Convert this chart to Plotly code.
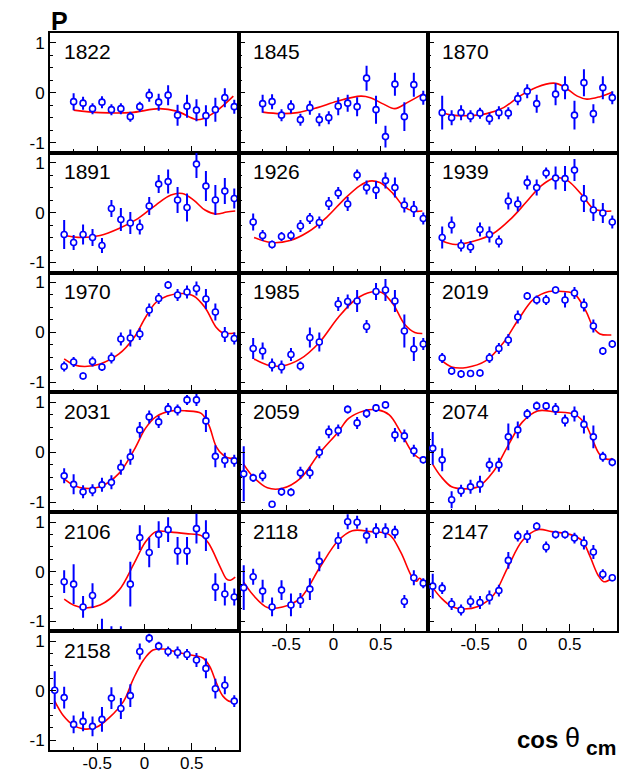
import plotly.graph_objects as go

# ---------------- data ----------------
labels = ["1822", "1845", "1870", "1891", "1926", "1939", "1970", "1985", "2019",
          "2031", "2059", "2074", "2106", "2118", "2147", "2158"]

x1822 = [-0.75, -0.65, -0.55, -0.45, -0.35, -0.25, -0.15, -0.05, 0.05, 0.15, 0.25, 0.35, 0.45, 0.55, 0.65, 0.75, 0.85, 0.95]
y1822 = [-0.18, -0.21, -0.32, -0.19, -0.34, -0.32, -0.48, -0.28, -0.05, -0.19, -0.05, -0.45, -0.27, -0.35, -0.46, -0.34, -0.10, -0.28]
e1822 = [0.17, 0.13, 0.11, 0.12, 0.11, 0.11, 0.10, 0.10, 0.13, 0.17, 0.20, 0.21, 0.23, 0.22, 0.21, 0.24, 0.19, 0.14]
cx1822 = [-0.75, -0.47, -0.15, 0.16, 0.34, 0.55, 0.62, 0.76, 0.94]
cy1822 = [-0.35, -0.40, -0.40, -0.32, -0.37, -0.54, -0.52, -0.37, -0.07]

x1845 = [-0.75, -0.65, -0.55, -0.45, -0.35, -0.25, -0.15, -0.05, 0.05, 0.15, 0.25, 0.35, 0.45, 0.55, 0.65, 0.75, 0.85, 0.95]
y1845 = [-0.22, -0.18, -0.45, -0.28, -0.54, -0.30, -0.54, -0.50, -0.27, -0.21, -0.28, 0.29, -0.34, -0.88, 0.17, -0.48, 0.16, -0.10]
e1845 = [0.18, 0.15, 0.12, 0.13, 0.12, 0.14, 0.13, 0.13, 0.18, 0.17, 0.19, 0.25, 0.28, 0.22, 0.23, 0.29, 0.24, 0.14]
cx1845 = [-0.75, -0.56, -0.38, -0.17, 0.04, 0.29, 0.39, 0.53, 0.65, 0.78, 0.95]
cy1845 = [-0.39, -0.42, -0.40, -0.30, -0.17, -0.07, -0.10, -0.23, -0.32, -0.20, -0.02]

x1870 = [-0.85, -0.75, -0.65, -0.55, -0.45, -0.35, -0.25, -0.15, -0.05, 0.05, 0.15, 0.35, 0.45, 0.55, 0.65, 0.75, 0.85, 0.95]
y1870 = [-0.40, -0.50, -0.40, -0.47, -0.41, -0.52, -0.40, -0.41, -0.12, 0.03, -0.22, -0.03, 0.10, -0.45, 0.20, -0.42, 0.10, -0.10]
e1870 = [0.34, 0.15, 0.15, 0.12, 0.11, 0.12, 0.13, 0.12, 0.13, 0.14, 0.18, 0.22, 0.23, 0.29, 0.27, 0.19, 0.23, 0.13]
cx1870 = [-0.86, -0.74, -0.56, -0.38, -0.20, -0.03, 0.15, 0.33, 0.43, 0.58, 0.68, 0.82, 0.95]
cy1870 = [-0.39, -0.45, -0.46, -0.42, -0.30, -0.07, 0.11, 0.19, 0.13, -0.07, -0.13, -0.08, 0.01]

x1891 = [-0.85, -0.75, -0.65, -0.55, -0.45, -0.35, -0.25, -0.15, -0.05, 0.05, 0.15, 0.25, 0.35, 0.45, 0.55, 0.65, 0.75, 0.85, 0.95]
y1891 = [-0.44, -0.60, -0.44, -0.50, -0.66, 0.08, -0.14, -0.21, -0.29, 0.13, 0.57, 0.62, 0.25, 0.10, 0.97, 0.53, 0.25, 0.43, 0.28]
e1891 = [0.29, 0.15, 0.20, 0.17, 0.15, 0.17, 0.23, 0.22, 0.15, 0.18, 0.18, 0.24, 0.26, 0.28, 0.28, 0.30, 0.30, 0.26, 0.20]
cx1891 = [-0.85, -0.67, -0.47, -0.27, -0.07, 0.12, 0.28, 0.40, 0.52, 0.64, 0.76, 0.87, 0.96]
cy1891 = [-0.46, -0.50, -0.46, -0.32, -0.12, 0.15, 0.35, 0.38, 0.25, 0.05, -0.03, 0.01, 0.03]

x1926 = [-0.85, -0.75, -0.65, -0.55, -0.45, -0.35, -0.25, -0.15, -0.05, 0.05, 0.15, 0.25, 0.35, 0.45, 0.55, 0.65, 0.75, 0.85, 0.95]
y1926 = [-0.19, -0.46, -0.64, -0.48, -0.46, -0.27, -0.12, -0.20, 0.18, 0.39, 0.17, 0.75, 0.50, 0.45, 0.64, 0.50, 0.15, 0.07, -0.12]
e1926 = [0.17, 0.11, 0.08, 0.09, 0.10, 0.12, 0.11, 0.12, 0.13, 0.12, 0.14, 0.11, 0.14, 0.18, 0.16, 0.20, 0.15, 0.16, 0.12]
cx1926 = [-0.84, -0.66, -0.46, -0.27, -0.07, 0.12, 0.28, 0.38, 0.49, 0.63, 0.75, 0.85, 0.94]
cy1926 = [-0.50, -0.60, -0.56, -0.39, -0.09, 0.28, 0.54, 0.63, 0.60, 0.38, 0.11, 0.03, 0.03]

x1939 = [-0.85, -0.75, -0.65, -0.55, -0.45, -0.35, -0.25, -0.15, -0.05, 0.05, 0.15, 0.25, 0.35, 0.45, 0.55, 0.65, 0.75, 0.85, 0.95]
y1939 = [-0.50, -0.25, -0.66, -0.69, -0.34, -0.44, -0.58, 0.23, 0.17, 0.60, 0.50, 0.79, 0.69, 0.68, 0.85, 0.28, 0.05, -0.01, -0.19]
e1939 = [0.22, 0.17, 0.12, 0.12, 0.14, 0.16, 0.12, 0.17, 0.15, 0.14, 0.16, 0.11, 0.23, 0.25, 0.22, 0.27, 0.22, 0.20, 0.13]
cx1939 = [-0.85, -0.71, -0.51, -0.31, -0.12, 0.04, 0.20, 0.35, 0.47, 0.63, 0.75, 0.85, 0.94]
cy1939 = [-0.57, -0.64, -0.57, -0.42, -0.12, 0.21, 0.54, 0.70, 0.65, 0.35, 0.08, 0.03, 0.03]

x1970 = [-0.85, -0.75, -0.65, -0.55, -0.45, -0.35, -0.25, -0.15, -0.05, 0.05, 0.15, 0.25, 0.35, 0.45, 0.55, 0.65, 0.75, 0.85, 0.95]
y1970 = [-0.68, -0.59, -0.87, -0.58, -0.69, -0.51, -0.13, -0.11, -0.03, 0.45, 0.68, 0.95, 0.75, 0.81, 0.88, 0.67, 0.41, -0.04, -0.12]
e1970 = [0.10, 0.10, 0.07, 0.10, 0.08, 0.11, 0.13, 0.17, 0.12, 0.13, 0.11, 0.08, 0.12, 0.13, 0.14, 0.20, 0.17, 0.15, 0.12]
cx1970 = [-0.85, -0.74, -0.63, -0.47, -0.27, -0.11, 0.01, 0.12, 0.24, 0.40, 0.52, 0.64, 0.76, 0.83, 0.96]
cy1970 = [-0.53, -0.65, -0.68, -0.63, -0.43, -0.10, 0.30, 0.60, 0.73, 0.78, 0.73, 0.50, 0.10, -0.01, -0.01]

x1985 = [-0.85, -0.75, -0.65, -0.55, -0.45, -0.35, -0.25, -0.15, 0.05, 0.15, 0.25, 0.35, 0.45, 0.55, 0.65, 0.75, 0.85, 0.95]
y1985 = [-0.32, -0.37, -0.65, -0.69, -0.44, -0.67, -0.10, -0.19, 0.57, 0.62, 0.63, 0.12, 0.82, 0.85, 0.63, 0.03, -0.33, -0.23]
e1985 = [0.21, 0.17, 0.13, 0.13, 0.13, 0.09, 0.20, 0.19, 0.14, 0.14, 0.22, 0.13, 0.17, 0.22, 0.22, 0.33, 0.24, 0.12]
cx1985 = [-0.84, -0.70, -0.54, -0.35, -0.15, 0.05, 0.24, 0.40, 0.51, 0.63, 0.75, 0.86, 0.94]
cy1985 = [-0.53, -0.65, -0.67, -0.53, -0.20, 0.30, 0.67, 0.81, 0.80, 0.57, 0.17, 0.00, -0.02]

x2019 = [-0.85, -0.75, -0.65, -0.55, -0.45, -0.35, -0.25, -0.15, -0.05, 0.05, 0.15, 0.25, 0.35, 0.45, 0.55, 0.65, 0.75, 0.85, 0.95]
y2019 = [-0.51, -0.77, -0.83, -0.82, -0.81, -0.51, -0.32, -0.15, 0.31, 0.73, 0.65, 0.65, 0.85, 0.65, 0.79, 0.55, 0.13, -0.37, -0.23]
e2019 = [0.10, 0.08, 0.08, 0.07, 0.07, 0.10, 0.11, 0.12, 0.13, 0.08, 0.09, 0.10, 0.07, 0.15, 0.12, 0.13, 0.13, 0.08, 0.08]
cx2019 = [-0.85, -0.75, -0.59, -0.39, -0.20, -0.04, 0.12, 0.28, 0.43, 0.55, 0.67, 0.75, 0.82, 0.94]
cy2019 = [-0.57, -0.69, -0.70, -0.57, -0.20, 0.27, 0.67, 0.82, 0.82, 0.77, 0.43, 0.10, -0.03, -0.05]

x2031 = [-0.85, -0.75, -0.65, -0.55, -0.45, -0.35, -0.25, -0.15, -0.05, 0.05, 0.15, 0.25, 0.35, 0.45, 0.55, 0.65, 0.75, 0.85, 0.95]
y2031 = [-0.47, -0.64, -0.79, -0.76, -0.65, -0.60, -0.30, -0.09, 0.45, 0.71, 0.61, 0.87, 0.85, 1.05, 1.05, 0.63, -0.08, -0.16, -0.17]
e2031 = [0.15, 0.20, 0.13, 0.12, 0.14, 0.14, 0.15, 0.16, 0.16, 0.13, 0.12, 0.12, 0.11, 0.10, 0.12, 0.22, 0.22, 0.15, 0.12]
cx2031 = [-0.85, -0.74, -0.63, -0.47, -0.27, -0.11, 0.01, 0.12, 0.28, 0.44, 0.60, 0.68, 0.76, 0.83, 0.91, 0.96]
cy2031 = [-0.53, -0.67, -0.72, -0.69, -0.42, 0.05, 0.48, 0.71, 0.83, 0.83, 0.78, 0.55, 0.11, -0.05, -0.12, -0.09]

x2059 = [-0.95, -0.85, -0.75, -0.65, -0.55, -0.45, -0.35, -0.25, -0.15, -0.05, 0.05, 0.15, 0.25, 0.35, 0.45, 0.55, 0.65, 0.75, 0.85, 0.95]
y2059 = [-0.43, -0.51, -0.47, -1.04, -0.79, -0.80, -0.41, -0.41, 0.00, 0.41, 0.44, 0.86, 0.59, 0.78, 0.89, 0.95, 0.35, 0.33, 0.03, -0.15]
e2059 = [0.55, 0.08, 0.11, 0.05, 0.08, 0.08, 0.12, 0.12, 0.12, 0.13, 0.12, 0.08, 0.12, 0.09, 0.08, 0.07, 0.14, 0.13, 0.12, 0.07]
cx2059 = [-0.95, -0.85, -0.70, -0.54, -0.35, -0.15, 0.05, 0.16, 0.32, 0.47, 0.59, 0.71, 0.83, 0.90, 0.95]
cy2059 = [-0.24, -0.49, -0.71, -0.72, -0.52, -0.02, 0.41, 0.68, 0.83, 0.85, 0.75, 0.41, 0.01, -0.11, -0.13]

x2074 = [-0.95, -0.85, -0.75, -0.65, -0.55, -0.45, -0.35, -0.25, -0.15, -0.05, 0.05, 0.15, 0.25, 0.35, 0.45, 0.55, 0.65, 0.75, 0.85, 0.95]
y2074 = [0.08, -0.15, -0.95, -0.77, -0.69, -0.64, -0.25, -0.25, 0.31, 0.45, 0.77, 0.93, 0.93, 0.87, 0.64, 0.77, 0.56, 0.31, -0.09, -0.20]
e2074 = [0.33, 0.23, 0.17, 0.12, 0.14, 0.17, 0.14, 0.14, 0.27, 0.17, 0.10, 0.09, 0.08, 0.12, 0.12, 0.15, 0.18, 0.23, 0.10, 0.08]
cx2074 = [-0.95, -0.86, -0.75, -0.63, -0.47, -0.31, -0.16, 0.00, 0.16, 0.35, 0.55, 0.67, 0.75, 0.82, 0.90, 0.95]
cy2074 = [-0.24, -0.49, -0.69, -0.73, -0.69, -0.39, 0.11, 0.61, 0.83, 0.81, 0.76, 0.55, 0.21, -0.05, -0.14, -0.12]

x2106 = [-0.85, -0.75, -0.65, -0.55, -0.45, -0.35, -0.25, -0.15, -0.05, 0.05, 0.15, 0.25, 0.35, 0.45, 0.55, 0.65, 0.75, 0.85, 0.95]
y2106 = [-0.20, -0.25, -0.71, -0.48, -1.50, -1.40, -1.40, -0.25, 0.69, 0.39, 0.75, 0.85, 0.42, 0.42, 0.87, 0.73, -0.31, -0.45, -0.51]
e2106 = [0.23, 0.40, 0.22, 0.25, 0.55, 0.30, 0.30, 0.45, 0.25, 0.30, 0.27, 0.25, 0.28, 0.28, 0.30, 0.31, 0.28, 0.23, 0.17]
cx2106 = [-0.85, -0.74, -0.63, -0.47, -0.27, -0.11, 0.01, 0.12, 0.28, 0.44, 0.60, 0.68, 0.80, 0.87, 0.91, 0.96]
cy2106 = [-0.55, -0.68, -0.73, -0.67, -0.37, 0.17, 0.60, 0.81, 0.80, 0.77, 0.73, 0.57, 0.10, -0.15, -0.17, -0.11]

x2118 = [-0.95, -0.85, -0.75, -0.65, -0.55, -0.45, -0.35, -0.25, -0.15, 0.05, 0.15, 0.25, 0.35, 0.45, 0.55, 0.65, 0.75, 0.85, 0.95]
y2118 = [-0.32, -0.10, -0.39, -0.71, -0.37, -0.67, -0.58, -0.35, 0.21, 0.63, 1.01, 1.00, 0.73, 0.83, 0.83, 0.80, -0.60, -0.12, -0.23]
e2118 = [0.45, 0.16, 0.23, 0.19, 0.20, 0.23, 0.15, 0.22, 0.20, 0.17, 0.15, 0.13, 0.16, 0.15, 0.15, 0.13, 0.13, 0.15, 0.10]
cx2118 = [-0.95, -0.85, -0.70, -0.54, -0.35, -0.15, 0.05, 0.20, 0.40, 0.59, 0.71, 0.83, 0.88, 0.91, 0.95]
cy2118 = [-0.21, -0.47, -0.72, -0.71, -0.53, 0.07, 0.63, 0.83, 0.81, 0.75, 0.40, -0.10, -0.19, -0.13, -0.21]

x2147 = [-0.95, -0.85, -0.75, -0.65, -0.55, -0.45, -0.35, -0.25, -0.15, -0.05, 0.05, 0.15, 0.25, 0.35, 0.45, 0.55, 0.65, 0.75, 0.85, 0.95]
y2147 = [-0.29, -0.33, -0.65, -0.77, -0.60, -0.62, -0.52, -0.38, 0.23, 0.72, 0.71, 0.92, 0.50, 0.75, 0.75, 0.68, 0.58, 0.40, -0.05, -0.12]
e2147 = [0.25, 0.12, 0.12, 0.11, 0.12, 0.13, 0.14, 0.12, 0.17, 0.11, 0.13, 0.08, 0.11, 0.08, 0.08, 0.11, 0.13, 0.14, 0.10, 0.07]
cx2147 = [-0.95, -0.86, -0.75, -0.63, -0.47, -0.31, -0.16, 0.00, 0.16, 0.31, 0.51, 0.63, 0.71, 0.80, 0.86, 0.95]
cy2147 = [-0.32, -0.53, -0.70, -0.75, -0.70, -0.48, 0.07, 0.63, 0.85, 0.81, 0.75, 0.63, 0.33, -0.07, -0.20, -0.13]

x2158 = [-0.95, -0.85, -0.75, -0.65, -0.55, -0.45, -0.35, -0.25, -0.15, -0.05, 0.05, 0.15, 0.25, 0.35, 0.45, 0.55, 0.65, 0.75, 0.85, 0.95]
y2158 = [0.01, -0.14, -0.68, -0.62, -0.72, -0.58, -0.15, -0.36, -0.10, 0.79, 1.06, 0.90, 0.79, 0.77, 0.73, 0.62, 0.45, 0.04, 0.11, -0.21]
e2158 = [0.38, 0.22, 0.18, 0.20, 0.20, 0.25, 0.22, 0.21, 0.23, 0.16, 0.09, 0.09, 0.10, 0.12, 0.11, 0.14, 0.20, 0.20, 0.18, 0.12]
cx2158 = [-0.95, -0.86, -0.75, -0.65, -0.51, -0.37, -0.22, -0.12, -0.01, 0.09, 0.20, 0.38, 0.52, 0.62, 0.69, 0.76, 0.83, 0.91, 0.95]
cy2158 = [-0.21, -0.50, -0.70, -0.77, -0.74, -0.54, -0.21, 0.23, 0.62, 0.82, 0.84, 0.76, 0.71, 0.66, 0.49, 0.16, -0.11, -0.22, -0.19]

xticks = [-0.5, 0, 0.5]
xtick_text = ["-0.5", "0", "0.5"]
yticks = [-1, 0, 1]
ytick_text = ["-1", "0", "1"]

panels = [
    (x1822, y1822, e1822, cx1822, cy1822), (x1845, y1845, e1845, cx1845, cy1845),
    (x1870, y1870, e1870, cx1870, cy1870), (x1891, y1891, e1891, cx1891, cy1891),
    (x1926, y1926, e1926, cx1926, cy1926), (x1939, y1939, e1939, cx1939, cy1939),
    (x1970, y1970, e1970, cx1970, cy1970), (x1985, y1985, e1985, cx1985, cy1985),
    (x2019, y2019, e2019, cx2019, cy2019), (x2031, y2031, e2031, cx2031, cy2031),
    (x2059, y2059, e2059, cx2059, cy2059), (x2074, y2074, e2074, cx2074, cy2074),
    (x2106, y2106, e2106, cx2106, cy2106), (x2118, y2118, e2118, cx2118, cy2118),
    (x2147, y2147, e2147, cx2147, cy2147), (x2158, y2158, e2158, cx2158, cy2158),
]

# ---------------- layout geometry (pixels) ----------------
W, H = 633, 773
col_left = [50, 239, 428]
col_w = 189
row_top = [33, 154, 275, 396, 517, 637]
row_bot = [154, 275, 396, 517, 637, 757]
FONT = "Liberation Sans, Arial, Helvetica, sans-serif"

fig = go.Figure()
layout = dict(
    width=W, height=H, autosize=False,
    margin=dict(l=0, r=0, t=0, b=0),
    paper_bgcolor="white", plot_bgcolor="white",
    showlegend=False,
    font=dict(family=FONT, color="black", size=17),
)
annotations = []

for i, (px, py, pe, cx, cy) in enumerate(panels):
    r, c = divmod(i, 3)
    n = "" if i == 0 else str(i + 1)
    xa, ya = "x" + n, "y" + n
    fig.add_trace(go.Scatter(
        x=cx, y=cy, mode="lines", xaxis=xa, yaxis=ya,
        line=dict(color="#ff0000", width=1.6, shape="spline", smoothing=1.0),
        hoverinfo="skip"))
    fig.add_trace(go.Scatter(
        x=px, y=py, mode="markers", xaxis=xa, yaxis=ya,
        marker=dict(symbol="circle", size=6, color="white",
                    line=dict(color="#0000ff", width=1.6)),
        error_y=dict(type="data", array=pe, visible=True, color="#0000ff",
                     thickness=2, width=0)))
    x0 = col_left[c] / W
    x1 = (col_left[c] + col_w) / W
    y0 = 1 - row_bot[r] / H
    y1 = 1 - row_top[r] / H
    show_x = i in (13, 14, 15)
    show_y = c == 0
    layout["xaxis" + n] = dict(
        domain=[x0, x1], range=[-1, 1], anchor=ya,
        showgrid=False, zeroline=False, showline=True, mirror=True,
        linecolor="black", linewidth=2,
        ticks="inside", ticklen=7, tickwidth=1, tickcolor="black",
        tickmode="array", tickvals=xticks, ticktext=xtick_text,
        showticklabels=show_x, tickfont=dict(size=17, family=FONT),
        ticklabelstandoff=-4,
        minor=dict(tickmode="array", tickvals=[-0.75, -0.25, 0.25, 0.75],
                   ticks="inside", ticklen=3.5, tickwidth=1, tickcolor="black"),
    )
    layout["yaxis" + n] = dict(
        domain=[y0, y1], range=[-1.2, 1.2], anchor=xa,
        showgrid=False, zeroline=False, showline=True, mirror=True,
        linecolor="black", linewidth=2,
        ticks="inside", ticklen=6, tickwidth=1, tickcolor="black",
        tickmode="array", tickvals=yticks, ticktext=ytick_text,
        showticklabels=show_y, tickfont=dict(size=17, family=FONT),
        minor=dict(tickmode="array", tickvals=[-0.75, -0.5, -0.25, 0.25, 0.5, 0.75],
                   ticks="inside", ticklen=3, tickwidth=1, tickcolor="black"),
    )
    annotations.append(dict(
        text=labels[i], xref=xa + " domain", yref=ya + " domain",
        x=0.065, y=0.955, xanchor="left", yanchor="top", showarrow=False,
        font=dict(size=21, family=FONT, color="black")))

annotations.append(dict(
    text="<b>P</b>", xref="paper", yref="paper", x=60 / W, y=1 - 21 / H,
    xanchor="center", yanchor="middle", showarrow=False,
    font=dict(size=25, family=FONT, color="black")))
# x-axis title: "cos θ_cm"
annotations.append(dict(
    text="<b>cos</b>", xref="paper", yref="paper", x=515 / W, y=1 - 746 / H,
    xanchor="left", yanchor="middle", showarrow=False,
    font=dict(size=24, family=FONT, color="black")))
annotations.append(dict(
    text="θ", xref="paper", yref="paper", x=572 / W, y=1 - 745 / H,
    xanchor="center", yanchor="middle", showarrow=False,
    font=dict(size=27, family=FONT, color="black")))
annotations.append(dict(
    text="<b>cm</b>", xref="paper", yref="paper", x=618 / W, y=1 - 754 / H,
    xanchor="right", yanchor="middle", showarrow=False,
    font=dict(size=21, family=FONT, color="black")))

layout["annotations"] = annotations
fig.update_layout(**layout)
fig.write_html("out.html")
